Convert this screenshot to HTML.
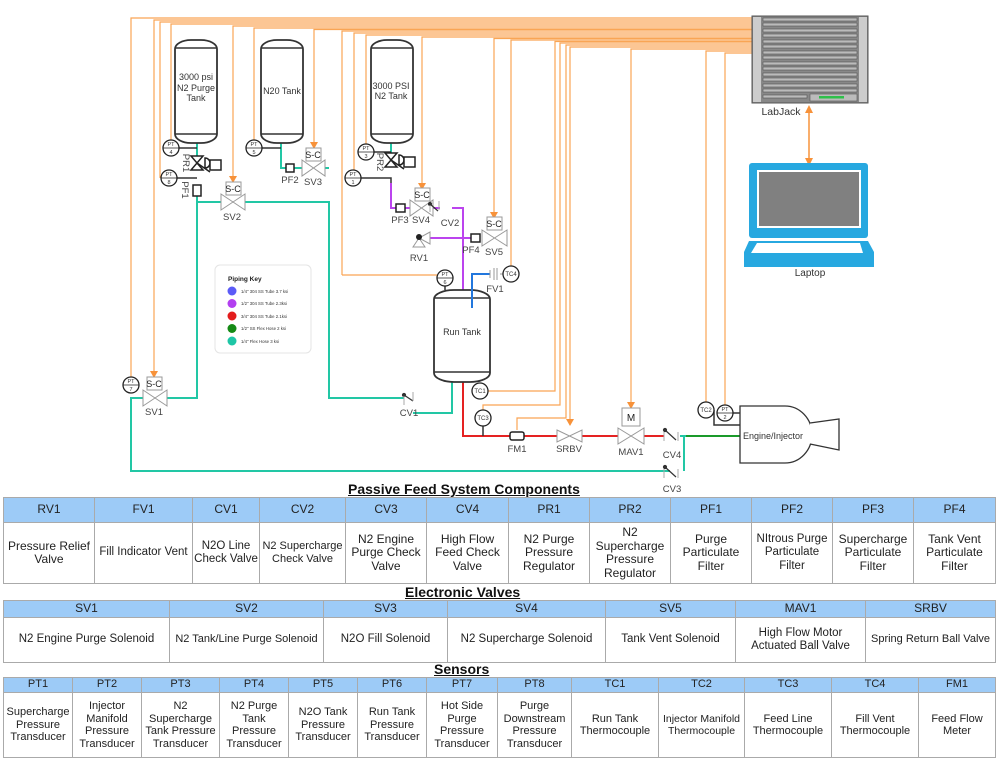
<!DOCTYPE html>
<html><head><meta charset="utf-8"><style>
body{margin:0;background:#fff;width:999px;height:762px;overflow:hidden;position:relative;font-family:"Liberation Sans",sans-serif}
svg{position:absolute;left:0;top:0}
table{position:absolute;left:3px;border-collapse:collapse;table-layout:fixed;font-size:12px;color:#222}
td{border:1px solid #aaa;text-align:center;vertical-align:middle;padding:0;line-height:13.5px;white-space:nowrap;overflow:hidden}
tr.h td{background:#9dcbf7}
.t{position:absolute;font-weight:bold;font-size:14px;text-decoration:underline;color:#111;white-space:nowrap}
</style></head><body>
<svg width="999" height="762" viewBox="0 0 999 762" font-family="Liberation Sans, sans-serif">
<g fill="none" stroke="#f9a555" stroke-width="1.2">
<path d="M131,385 V18 H752"/><path d="M154,376 V20 H752"/><path d="M160,178 V22 H752"/><path d="M171,148 V24 H752"/>
<path d="M233,181 V26 H752"/><path d="M254,148 V28 H752"/><path d="M314,147 V29.5 H752"/><path d="M342,275 V31 H752"/>
<path d="M354,178 V33 H752"/><path d="M366,152 V35 H752"/><path d="M422,188 V37 H752"/><path d="M494,217 V38.5 H752"/>
<path d="M511,266 V40 H752"/><path d="M342,275 H437"/>
<path d="M488,391 H555 V41.5 H752"/><path d="M483,411 V405 H560 V43 H752"/><path d="M517,430 V418 H566 V45 H752"/>
<path d="M570,425 V47 H752"/><path d="M631,408 V49 H752"/><path d="M706,403 V51 H752"/><path d="M725,406 V53 H752"/>
</g>
<g fill="#f7923a"><path d="M150,371 h8 l-4,7z"/><path d="M229,176 h8 l-4,7z"/><path d="M310,142 h8 l-4,7z"/><path d="M418,183 h8 l-4,7z"/><path d="M490,212 h8 l-4,7z"/><path d="M566,419 h8 l-4,7z"/><path d="M627,402 h8 l-4,7z"/></g>
<g fill="none" stroke="#22c7a5" stroke-width="2">
<path d="M197,143 V156"/><path d="M197,196 V398 H167"/><path d="M197,202 H221"/><path d="M245,202 H329 V398 H404"/><path d="M413,413 H452 V382"/>
<path d="M281,143 V168 H286"/><path d="M294,168 H302"/><path d="M325,168 H329"/><path d="M143,398 H131 V471 H670"/><path d="M391,143 V153"/>
<path d="M684,471 V436"/><path d="M680,436 H686"/>
</g>
<g fill="none" stroke="#bb44ee" stroke-width="2"><path d="M391,183 V208 H396"/><path d="M405,208 H410"/><path d="M433,208 H440"/><path d="M452,208 H463 V292"/><path d="M430,238 H463"/><path d="M463,238 H480"/></g>
<path d="M472,308 V274 H490" fill="none" stroke="#2277dd" stroke-width="2"/>
<g fill="none" stroke="#e52222" stroke-width="2"><path d="M463,382 V436 H510"/><path d="M524,436 H557"/><path d="M582,436 H618"/><path d="M644,436 H664"/></g>
<path d="M686,436 H740" stroke="#1a9a2a" stroke-width="2"/>
<g fill="#fff" stroke="#333" stroke-width="1.8">
<rect x="175" y="40" width="42" height="103" rx="16" ry="9"/><rect x="261" y="40" width="42" height="103" rx="16" ry="9"/><rect x="371" y="40" width="42" height="103" rx="16" ry="9"/>
<rect x="434" y="290" width="56" height="92" rx="20" ry="9"/>
</g>
<g stroke="#333" stroke-width="1.5"><path d="M175,48H217M175,134H217M261,48H303M261,134H303M371,48H413M371,134H413M434,298H490M434,372H490"/></g>
<path d="M472,308 V274" stroke="#2277dd" stroke-width="2"/>
<g font-size="9" fill="#333" text-anchor="middle">
<text x="196" y="80">3000 psi</text><text x="196" y="91">N2 Purge</text><text x="196" y="101">Tank</text>
<text x="282" y="94">N20 Tank</text><text x="391" y="89">3000 PSI</text><text x="391" y="99">N2 Tank</text>
<text x="462" y="335">Run Tank</text></g>
<g stroke="#333" stroke-width="1.5" fill="none"><path d="M179,148H197"/><path d="M177,178H197"/><path d="M262,148H281"/><path d="M374,152H391"/><path d="M361,178H391 V183"/><path d="M445,286V290"/><path d="M483,426V436"/><path d="M714,410 V425 H740"/><path d="M733,413 H740"/></g>
<g stroke="#222" stroke-width="1.5" fill="#fff">
<path d="M191,156 L203,156 L197,163 Z M191,170 L203,170 L197,163 Z"/><path d="M197,163 L210,172"/><path d="M205,158 a5,5 0 0 1 0,10 Z"/><rect x="210" y="160" width="11" height="10"/>
<path d="M385,153 L397,153 L391,160 Z M385,167 L397,167 L391,160 Z"/><path d="M391,160 L404,169"/><path d="M399,155 a5,5 0 0 1 0,10 Z"/><rect x="404" y="157" width="11" height="10"/>
</g>
<g stroke="#222" stroke-width="1.5" fill="#fff">
<rect x="193" y="185" width="8" height="11"/><rect x="286" y="164" width="8" height="8"/><rect x="396" y="204" width="9" height="8"/><rect x="471" y="234" width="9" height="8"/>
<rect x="510" y="432" width="14" height="8" rx="2"/>
</g>
<g stroke="#999" stroke-width="1" fill="#fff">
<path d="M143,390 L167,406 V390 L143,406 Z"/><rect x="147" y="377" width="15" height="13"/>
<path d="M221,194 L245,210 V194 L221,210 Z"/><rect x="226" y="182" width="15" height="13"/>
<path d="M302,160 L325,176 V160 L302,176 Z"/><rect x="306" y="148" width="15" height="13"/>
<path d="M410,200 L433,216 V200 L410,216 Z"/><rect x="415" y="188" width="15" height="13"/>
<path d="M482,230 L507,246 V230 L482,246 Z"/><rect x="487" y="217" width="15" height="13"/>
<path d="M557,430 L582,442 V430 L557,442 Z"/>
<path d="M618,428 L644,444 V428 L618,444 Z"/><rect x="622" y="408" width="18" height="18"/>
</g>
<g font-size="9" fill="#222" text-anchor="middle"><text x="154" y="387">S-C</text><text x="233" y="192">S-C</text><text x="313" y="158">S-C</text><text x="422" y="198">S-C</text><text x="494" y="227">S-C</text><text x="631" y="421" font-size="10">M</text></g>
<g stroke="#333" stroke-width="1.2" fill="#333">
<path d="M404,395 L413,401" /><circle cx="404" cy="395" r="1.5"/><path d="M430,204 L438,211"/><circle cx="430" cy="204" r="1.5"/>
<path d="M665,430 L676,440"/><circle cx="665" cy="430" r="1.5"/><path d="M665,467 L676,477"/><circle cx="665" cy="467" r="1.5"/>
</g>
<g stroke="#aaa" stroke-width="1"><path d="M404,396V405M413,392V401M430,205V212M439,201V210M664,432V441M678,432V441M664,469V478M678,469V478"/></g>
<g stroke="#999" fill="#fff"><path d="M430,232 L430,244 L419,238 Z"/><path d="M413,247 L425,247 L419,238 Z"/></g><circle cx="419" cy="237" r="3" fill="#222"/>
<g stroke="#999"><path d="M490,270V278M494,268V280M497,268V280M500,274H503"/></g>
<g stroke="#222" stroke-width="1.3" fill="#fff">
<circle cx="171" cy="148" r="8"/><circle cx="169" cy="178" r="8"/><circle cx="254" cy="148" r="8"/><circle cx="366" cy="152" r="8"/><circle cx="353" cy="178" r="8"/><circle cx="445" cy="278" r="8"/><circle cx="131" cy="385" r="8"/><circle cx="725" cy="413" r="8"/>
<circle cx="511" cy="274" r="8"/><circle cx="480" cy="391" r="8"/><circle cx="483" cy="418" r="8"/><circle cx="706" cy="410" r="8"/>
</g>
<g stroke="#222" stroke-width="0.8"><path d="M163,148h16M161,178h16M246,148h16M358,152h16M345,178h16M437,278h16M123,385h16M717,413h16"/></g>
<g font-size="5.5" fill="#333" text-anchor="middle">
<text x="171" y="146">PT</text><text x="171" y="154">4</text><text x="169" y="176">PT</text><text x="169" y="184">8</text><text x="254" y="146">PT</text><text x="254" y="154">5</text>
<text x="366" y="150">PT</text><text x="366" y="158">3</text><text x="353" y="176">PT</text><text x="353" y="184">1</text><text x="445" y="276">PT</text><text x="445" y="284">6</text>
<text x="131" y="383">PT</text><text x="131" y="391">7</text><text x="725" y="411">PT</text><text x="725" y="419">2</text>
<text x="511" y="276" font-size="6">TC4</text><text x="480" y="393" font-size="6">TC1</text><text x="483" y="420" font-size="6">TC3</text><text x="706" y="412" font-size="6">TC2</text>
</g>
<g font-size="9.5" fill="#444" text-anchor="middle">
<text x="154" y="415">SV1</text><text x="232" y="220">SV2</text><text x="313" y="185">SV3</text><text x="290" y="183">PF2</text><text x="400" y="223">PF3</text><text x="421" y="223">SV4</text><text x="450" y="226">CV2</text>
<text x="419" y="261">RV1</text><text x="471" y="253">PF4</text><text x="494" y="255">SV5</text><text x="495" y="292">FV1</text><text x="409" y="416">CV1</text>
<text x="517" y="452">FM1</text><text x="569" y="452">SRBV</text><text x="631" y="455">MAV1</text><text x="672" y="458">CV4</text><text x="672" y="492">CV3</text>
<text transform="translate(183,163) rotate(90)">PR1</text><text transform="translate(182,190) rotate(90)">PF1</text><text transform="translate(377,162) rotate(90)">PR2</text>
</g>
<path d="M740,406 H785 A27,28.5 0 0 1 785,463 H740 Z" fill="#fff" stroke="#333" stroke-width="1.3"/>
<path d="M810,423 L839,419 V450 L810,444" fill="#fff" stroke="#333" stroke-width="1.3"/>
<text x="773" y="439" font-size="9" fill="#333" text-anchor="middle">Engine/Injector</text>
<rect x="215" y="265" width="96" height="88" rx="5" fill="#fff" stroke="#e4e4e4"/>
<text x="228" y="281" font-size="6.5" font-weight="bold" fill="#222">Piping Key</text>
<g font-size="4.3" fill="#333"><circle cx="232" cy="291" r="4.5" fill="#5b5bf7"/><text x="241" y="293">1/4" 304 SS Tube 3.7 ksi</text>
<circle cx="232" cy="303.5" r="4.5" fill="#b23ff0"/><text x="241" y="305">1/2" 304 SS Tube 2.3ksi</text>
<circle cx="232" cy="316" r="4.5" fill="#e31c1c"/><text x="241" y="318">3/4" 304 SS Tube 2.1ksi</text>
<circle cx="232" cy="328.5" r="4.5" fill="#158a15"/><text x="241" y="330">1/2" SS Flex Hose 2 ksi</text>
<circle cx="232" cy="341" r="4.5" fill="#1ec6a6"/><text x="241" y="343">1/4" Flex Hose 3 ksi</text></g>
<rect x="752" y="16" width="116" height="87" fill="#888" stroke="#555"/>
<rect x="753" y="17" width="8" height="85" fill="#ccc"/><rect x="859" y="17" width="8" height="85" fill="#ccc"/>
<g fill="#bbb" stroke="#555" stroke-width="0.6">
<rect x="763" y="18" width="94" height="3"/><rect x="763" y="23" width="94" height="3"/><rect x="763" y="29" width="94" height="3"/><rect x="763" y="34" width="94" height="3"/><rect x="763" y="40" width="94" height="3"/><rect x="763" y="45" width="94" height="3"/><rect x="763" y="51" width="94" height="3"/><rect x="763" y="56" width="94" height="3"/><rect x="763" y="62" width="94" height="3"/><rect x="763" y="67" width="94" height="3"/><rect x="763" y="73" width="94" height="3"/><rect x="763" y="78" width="94" height="3"/><rect x="763" y="84" width="94" height="3"/><rect x="763" y="89" width="94" height="3"/><rect x="763" y="95" width="44" height="3"/><rect x="810" y="94" width="47" height="7"/>
</g><rect x="819" y="96" width="25" height="2.5" fill="#2ec04a"/>
<text x="781" y="115" font-size="10.5" fill="#333" text-anchor="middle">LabJack</text>
<path d="M809,110 V161" stroke="#f7923a" stroke-width="1.5"/><path d="M805,113 L809,105 L813,113Z M805,158 L809,166 L813,158Z" fill="#f7923a"/>
<rect x="749" y="163" width="119" height="75" rx="3" fill="#27a8e0"/><rect x="757" y="170" width="104" height="58" fill="#fff"/><rect x="759" y="172" width="100" height="54" fill="#808080"/>
<path d="M749,241 H868 L874,252 V267 H744 V252 Z" fill="#27a8e0"/><path d="M757,243 H860 L863,253 H751 Z" fill="#fff"/>
<text x="810" y="276" font-size="10" fill="#333" text-anchor="middle">Laptop</text>
</svg>
<div class="t" style="left:348px;top:481px">Passive Feed System Components</div>
<table style="top:497px;width:992px">
<colgroup><col style="width:91px"><col style="width:98px"><col style="width:67px"><col style="width:86px"><col style="width:81px"><col style="width:82px"><col style="width:81px"><col style="width:81px"><col style="width:81px"><col style="width:81px"><col style="width:81px"><col style="width:82px"></colgroup>
<tr class="h" style="height:25px"><td>RV1</td><td>FV1</td><td>CV1</td><td>CV2</td><td>CV3</td><td>CV4</td><td>PR1</td><td>PR2</td><td>PF1</td><td>PF2</td><td>PF3</td><td>PF4</td></tr>
<tr style="height:61px"><td>Pressure Relief<br>Valve</td><td style="font-size:11.5px">Fill Indicator Vent</td><td style="font-size:11.5px">N2O Line<br>Check Valve</td><td style="font-size:11px">N2 Supercharge<br>Check Valve</td><td>N2 Engine<br>Purge Check<br>Valve</td><td>High Flow<br>Feed Check<br>Valve</td><td>N2 Purge<br>Pressure<br>Regulator</td><td>N2<br>Supercharge<br>Pressure<br>Regulator</td><td>Purge<br>Particulate<br>Filter</td><td style="font-size:11.5px">NItrous Purge<br>Particulate<br>Filter</td><td>Supercharge<br>Particulate<br>Filter</td><td>Tank Vent<br>Particulate<br>Filter</td></tr>
</table>
<div class="t" style="left:405px;top:584px">Electronic Valves</div>
<table style="top:600px;width:992px;font-size:11.5px">
<colgroup><col style="width:166px"><col style="width:154px"><col style="width:124px"><col style="width:158px"><col style="width:130px"><col style="width:130px"><col style="width:130px"></colgroup>
<tr class="h" style="height:17px;font-size:12px"><td>SV1</td><td>SV2</td><td>SV3</td><td>SV4</td><td>SV5</td><td>MAV1</td><td>SRBV</td></tr>
<tr style="height:45px"><td>N2 Engine Purge Solenoid</td><td style="font-size:11px">N2 Tank/Line Purge Solenoid</td><td>N2O Fill Solenoid</td><td>N2 Supercharge Solenoid</td><td>Tank Vent Solenoid</td><td>High Flow Motor<br>Actuated Ball Valve</td><td style="font-size:11px">Spring Return Ball Valve</td></tr>
</table>
<div class="t" style="left:434px;top:661px">Sensors</div>
<table style="top:677px;width:992px;font-size:11px">
<colgroup><col style="width:69px"><col style="width:69px"><col style="width:78px"><col style="width:69px"><col style="width:69px"><col style="width:69px"><col style="width:71px"><col style="width:74px"><col style="width:87px"><col style="width:86px"><col style="width:87px"><col style="width:87px"><col style="width:77px"></colgroup>
<tr class="h" style="height:15px"><td>PT1</td><td>PT2</td><td>PT3</td><td>PT4</td><td>PT5</td><td>PT6</td><td>PT7</td><td>PT8</td><td>TC1</td><td>TC2</td><td>TC3</td><td>TC4</td><td>FM1</td></tr>
<tr style="height:65px"><td style="line-height:12.5px">Supercharge<br>Pressure<br>Transducer</td><td style="line-height:12.5px">Injector<br>Manifold<br>Pressure<br>Transducer</td><td style="line-height:12.5px">N2<br>Supercharge<br>Tank Pressure<br>Transducer</td><td style="line-height:12.5px">N2 Purge<br>Tank<br>Pressure<br>Transducer</td><td style="line-height:12.5px">N2O Tank<br>Pressure<br>Transducer</td><td style="line-height:12.5px">Run Tank<br>Pressure<br>Transducer</td><td style="line-height:12.5px">Hot Side<br>Purge<br>Pressure<br>Transducer</td><td style="line-height:12.5px">Purge<br>Downstream<br>Pressure<br>Transducer</td><td style="line-height:12.5px">Run Tank<br>Thermocouple</td><td style="line-height:12.5px;font-size:10.5px">Injector Manifold<br>Thermocouple</td><td style="line-height:12.5px">Feed Line<br>Thermocouple</td><td style="line-height:12.5px">Fill Vent<br>Thermocouple</td><td style="line-height:12.5px">Feed Flow<br>Meter</td></tr>
</table>
</body></html>
